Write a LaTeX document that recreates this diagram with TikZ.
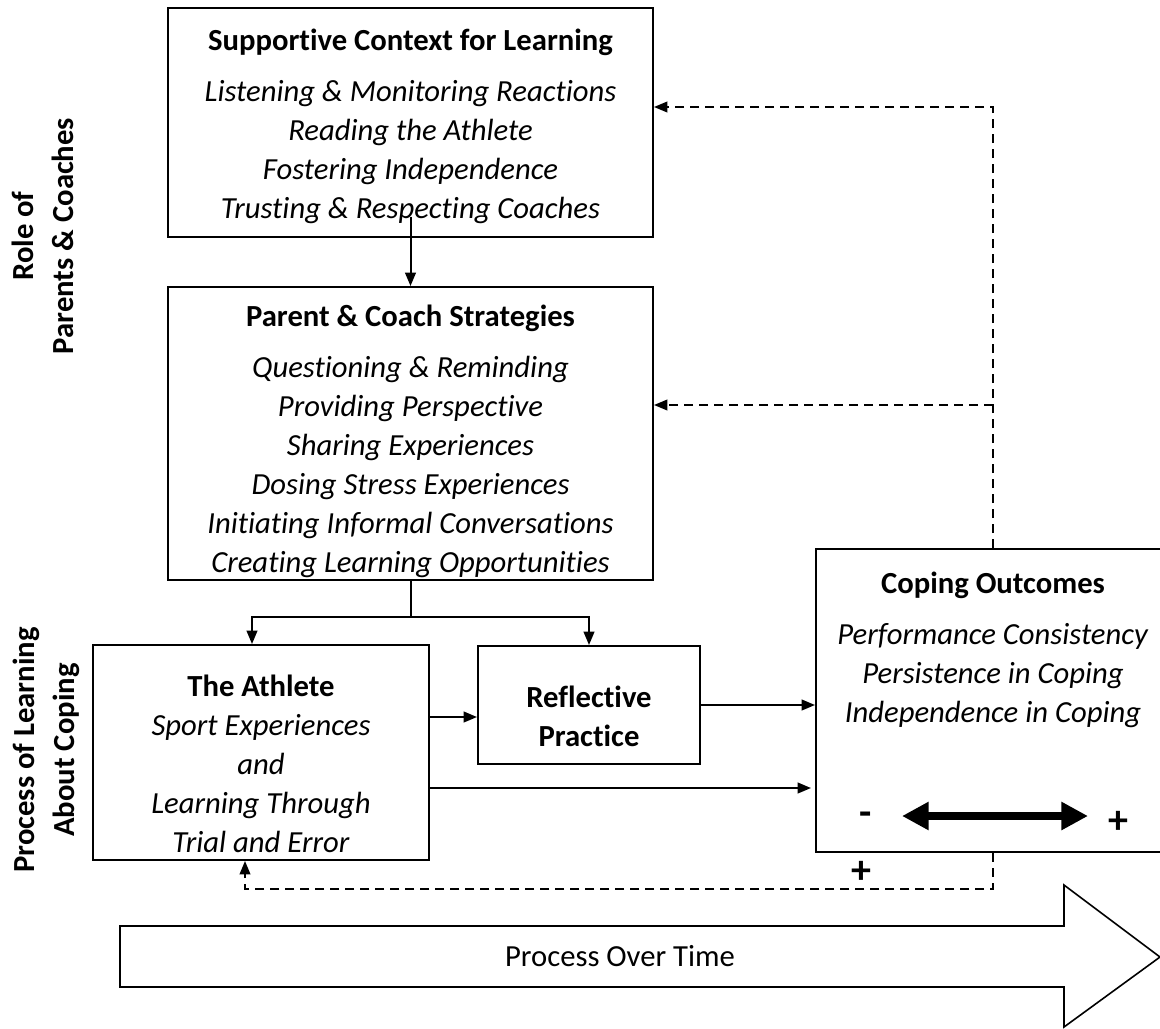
\documentclass[tikz,border=0pt]{standalone}
\usepackage{fontspec}
\setmainfont{Carlito}[Ligatures=NoCommon]
\usepackage{tikz}
\usetikzlibrary{arrows.meta, positioning}

\begin{document}
\begin{tikzpicture}[
x=0.75pt, y=-0.75pt,
>={Triangle[length=10pt,width=8pt]},
box/.style={rectangle, draw=black, line width=1.5pt, inner sep=0pt},
txt/.style={inner sep=0pt, align=center, font=\fontsize{23}{29.25}\selectfont},
side/.style={inner sep=0pt, align=center, rotate=90, font=\fontsize{23}{30}\selectfont\bfseries},
sign/.style={inner sep=0pt, font=\fontsize{30}{30}\selectfont\bfseries},
link/.style={line width=1.5pt},
feedback/.style={->, line width=1.2pt, dash pattern=on 6.75pt off 4.5pt}
]
\useasboundingbox (0,0) rectangle (1160,1028);

\node[side] (role) at (43,236) {Role of\\Parents \& Coaches};
\node[side] (proc) at (46.5,750) {Process of Learning\\About Coping};

\node[box, minimum width=363.75pt, minimum height=171.75pt] (sup) at (410.5,122.5) {};
\node[box, minimum width=363.75pt, minimum height=219.75pt] (par) at (410.5,433.5) {};
\node[box, minimum width=252pt, minimum height=161.25pt] (ath) at (261,752.5) {};
\node[box, minimum width=166.5pt, minimum height=88.5pt] (ref) at (589,705) {};
\node[box, minimum width=265.5pt, minimum height=227.25pt] (cop) at (993,700.5) {};

\node[txt] (suptext) at (410.5,126.5) {\textbf{Supportive Context for Learning}\\[9pt]
\textit{Listening \& Monitoring Reactions}\\ \textit{Reading the Athlete}\\
\textit{Fostering Independence}\\ \textit{Trusting \& Respecting Coaches}};
\node[txt] (partext) at (410.5,441.5) {\textbf{Parent \& Coach Strategies}\\[9pt]
\textit{Questioning \& Reminding}\\ \textit{Providing Perspective}\\
\textit{Sharing Experiences}\\ \textit{Dosing Stress Experiences}\\
\textit{Initiating Informal Conversations}\\ \textit{Creating Learning Opportunities}};
\node[txt] (athtext) at (261,763.5) {\textbf{The Athlete}\\ \textit{Sport Experiences}\\ \textit{and}\\
\textit{Learning Through}\\ \textit{Trial and Error}};
\node[txt] (reftext) at (589,716) {\textbf{Reflective}\\ \textbf{Practice}};
\node[txt] (coptext) at (993,650) {\textbf{Coping Outcomes}\\[9pt]
\textit{Performance Consistency}\\ \textit{Persistence in Coping}\\ \textit{Independence in Coping}};

\node[sign] (minus) at (866,819) {-};
\node[sign] (plus) at (1118,822) {+};
\node[sign] (plusfb) at (861,872) {+};
\coordinate (lo) at (902,816);
\coordinate (hi) at (1088,816);
\draw[{Triangle[length=20pt,width=20pt]}-{Triangle[length=20pt,width=20pt]}, line width=6pt] (lo) -- (hi);

\draw[link, ->] ([yshift=16pt]sup.south) -- (par.north);
\draw[link] (par.south) -- ++(0,36) coordinate (split);
\draw[link, ->] (split) -| ([xshift=-6.75pt]ath.north);
\draw[link, ->] (split) -| (ref.north);
\draw[link, ->] (ath.east |- 0,717) -- (ref.west |- 0,717);
\draw[link, ->] (ref.east) -- (cop.west |- ref.east);
\draw[link, ->] (ath.east |- 0,788) -- ([xshift=-3pt]cop.west |- 0,788);

\draw[feedback] (cop.north) |- (sup.east |- 0,107);
\draw[feedback] (cop.north |- 0,405) -- (par.east |- 0,405);
\draw[feedback] (cop.south) -- ++(0,36) -| ([xshift=-12pt]ath.south);

\draw[line width=1.2pt] (120,926) -- (1064,926) -- (1064,885) -- (1160,957) -- (1064,1027) -- (1064,987) -- (120,987) -- cycle;
\node[txt] (time) at (620,956) {Process Over Time};

\end{tikzpicture}
\end{document}
